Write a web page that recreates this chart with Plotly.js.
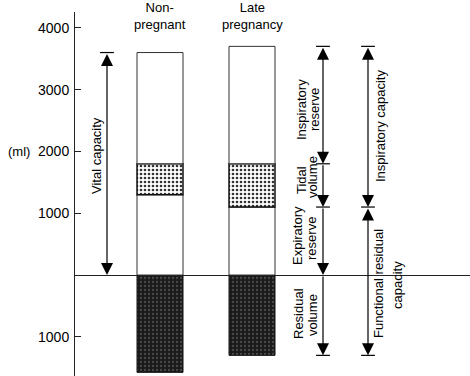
<!DOCTYPE html>
<html><head><meta charset="utf-8">
<script src="https://cdn.plot.ly/plotly-3.0.1.min.js"></script>
<style>html,body{margin:0;padding:0;background:#fff}#chart{width:470px;height:376px}</style>
</head><body><div id="chart"></div>
<script>
// ---- data (ml) ----
const categories = ['Non-pregnant', 'Late pregnancy'];
const categoryLabels = ['Non-<br>pregnant', 'Late<br>pregnancy'];
const residualVolume = [1575, 1300];
const expiratoryReserve = [1300, 1100];
const tidalVolume = [500, 700];
const inspiratoryReserve = [1800, 1900];
const tickValues = [-1000, 1000, 2000, 3000, 4000];
const tickLabels = ['1000', '1000', '2000', '3000', '4000'];

const FONT = 'Liberation Sans, Arial, Helvetica, sans-serif';

const traces = [
  {type: 'bar', x: categories, y: residualVolume.map(v => -v), width: 0.5,
   marker: {color: '#1c1c1c', line: {color: '#111', width: 1},
            pattern: {shape: '.', fgcolor: '#4a4a4a', bgcolor: '#1a1a1a', size: 4, solidity: 0.25}}},
  {type: 'bar', x: categories, y: expiratoryReserve, width: 0.5,
   marker: {color: '#fff', line: {color: '#333', width: 1}}},
  {type: 'bar', x: categories, y: tidalVolume, width: 0.5,
   marker: {color: '#fff', line: {color: '#111', width: 1.5},
            pattern: {shape: '.', fgcolor: '#333', bgcolor: '#fff', size: 4, solidity: 0.35}}},
  {type: 'bar', x: categories, y: inspiratoryReserve, width: 0.5,
   marker: {color: '#fff', line: {color: '#333', width: 1}}}
];

// derived levels
const idxNP = 0, idxLP = 1;
const vcTop = expiratoryReserve[idxNP] + tidalVolume[idxNP] + inspiratoryReserve[idxNP];
const lpFRCtop = expiratoryReserve[idxLP];
const lpTidalTop = lpFRCtop + tidalVolume[idxLP];
const lpTop = lpTidalTop + inspiratoryReserve[idxLP];
const lpBottom = -residualVolume[idxLP];

// pixel -> category-axis x (category 0 at 160px, 92px per category)
const px = p => (p - 160) / 92;
const xVC = px(107), xIn = px(323), xOut = px(368), capHalf = 0.075;

function arrow(x, yHead, yTail, side) {
  return {x: x, y: yHead, ax: x, ay: yTail, xref: 'x', yref: 'y', axref: 'x', ayref: 'y',
          text: '', showarrow: true, arrowhead: 2, arrowsize: 2, arrowwidth: 1.2,
          arrowcolor: '#000', arrowside: side, standoff: 0, startstandoff: 0};
}
function label(x, y, text, angle) {
  return {x: x, y: y, xref: 'x', yref: 'y', text: text, showarrow: false,
          textangle: angle, font: {family: FONT, size: 13, color: '#000'}};
}
function cap(x, y) {
  return {type: 'line', xref: 'x', yref: 'y', x0: x - capHalf, x1: x + capHalf, y0: y, y1: y,
          line: {color: '#000', width: 1.2}};
}

const annotations = [
  arrow(xVC, 0, vcTop, 'end+start'),
  arrow(xIn, lpTidalTop, lpTop, 'end+start'),
  arrow(xIn, lpFRCtop, lpTidalTop, 'end'),
  arrow(xIn, 0, lpFRCtop, 'end'),
  arrow(xIn, lpBottom, 0, 'end'),
  arrow(xOut, lpFRCtop, lpTop, 'end+start'),
  arrow(xOut, lpBottom, lpFRCtop, 'end+start'),
  label(px(97), 1926, 'Vital capacity', -90),
  label(px(301), 2670, 'Inspiratory', -90),
  label(px(314), 2670, 'reserve', -90),
  label(px(301), 1537, 'Tidal', -90),
  label(px(312), 1586, 'volume', -90),
  label(px(297), 631, 'Expiratory', -90),
  label(px(312), 583, 'reserve', -90),
  label(px(298), -631, 'Residual', -90),
  label(px(312), -647, 'volume', -90),
  label(px(380), 2411, 'Inspiratory capacity', -90),
  label(px(378), -146, 'Functional residual', -90),
  label(px(397), -162, 'capacity', -90),
  label(0, 4190, categoryLabels[0], 0),
  label(1, 4190, categoryLabels[1], 0),
  {xref: 'paper', yref: 'y', x: -0.142, y: 2000, xanchor: 'center', text: '(ml)', showarrow: false,
   font: {family: FONT, size: 13, color: '#000'}}
];

const shapes = [
  cap(xVC, vcTop),
  cap(xIn, lpTop), cap(xIn, lpTidalTop), cap(xIn, lpFRCtop), cap(xIn, lpBottom),
  cap(xOut, lpTop), cap(xOut, lpFRCtop), cap(xOut, lpBottom)
];

const layout = {
  width: 470, height: 376,
  margin: {l: 75, r: 0, t: 12, b: 0},
  paper_bgcolor: '#fff', plot_bgcolor: '#fff',
  barmode: 'relative', showlegend: false,
  font: {family: FONT, color: '#000'},
  xaxis: {type: 'category', categoryorder: 'array', categoryarray: categories,
          range: [-0.9239, 3.3696], visible: false, fixedrange: true},
  yaxis: {range: [-1634, 4256], showgrid: false, zeroline: true, zerolinecolor: '#222',
          zerolinewidth: 1, showline: true, linecolor: '#222', linewidth: 1,
          ticks: 'inside', ticklen: 6, tickcolor: '#222', tickvals: tickValues,
          ticklabelstandoff: 2,
          ticktext: tickLabels, tickfont: {family: FONT, size: 14, color: '#000'}},
  annotations: annotations,
  shapes: shapes
};

Plotly.newPlot('chart', traces, layout, {staticPlot: true});
</script></body></html>
